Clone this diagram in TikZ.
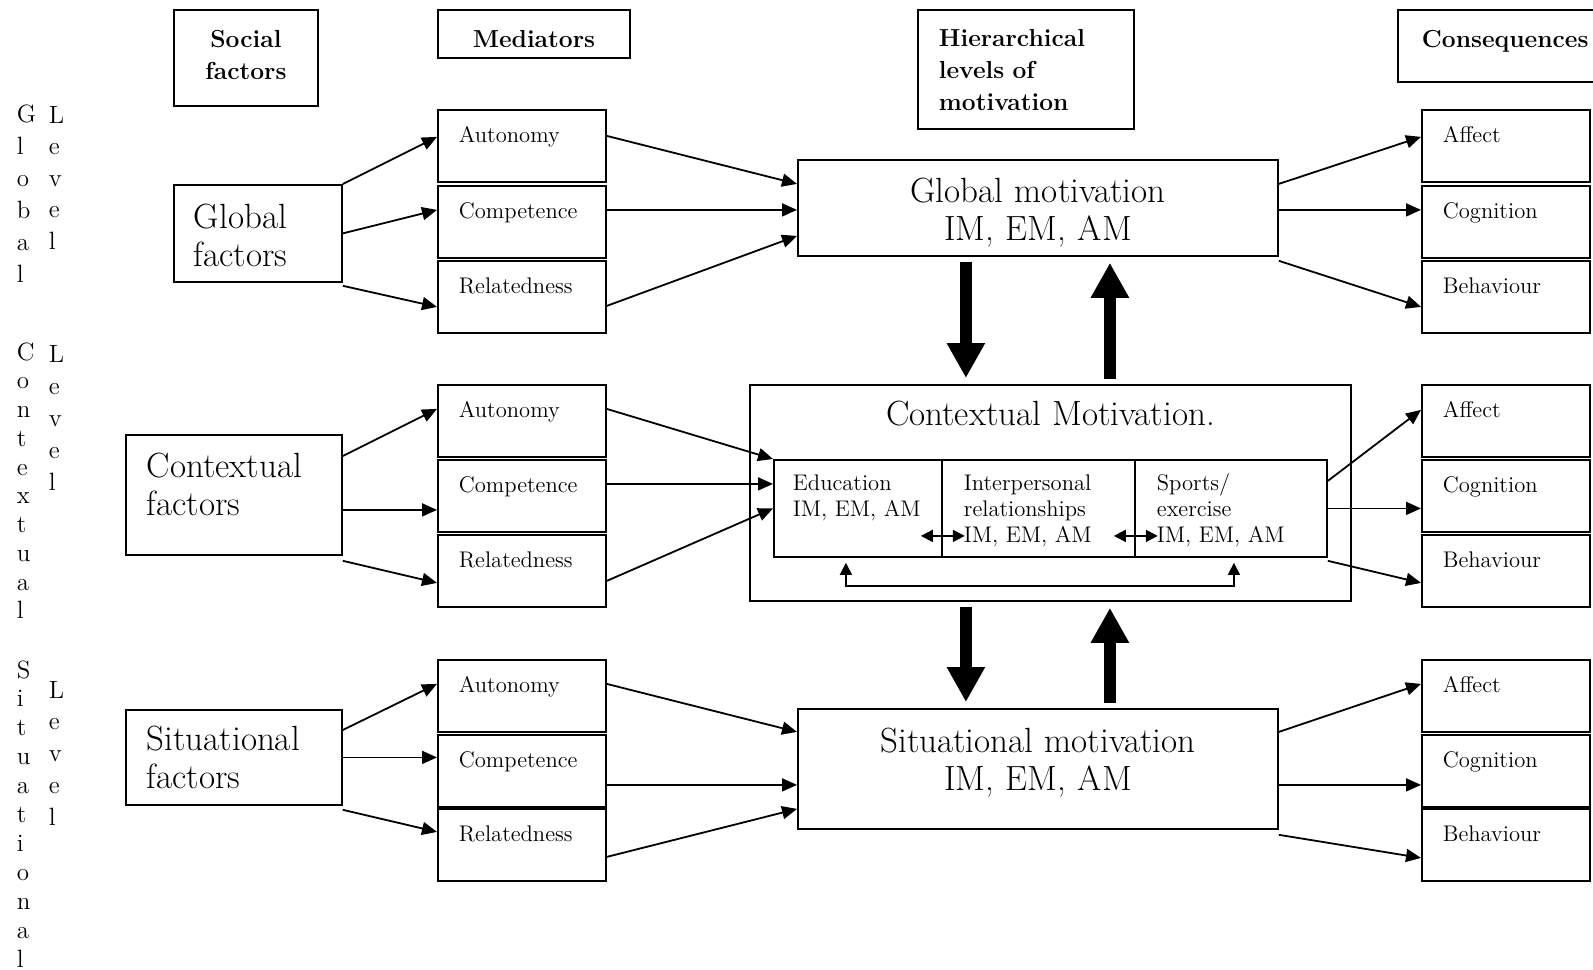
\documentclass[tikz,border=0pt]{standalone}
\usepackage{fontspec}
\usetikzlibrary{arrows.meta}

\begin{document}
\begin{tikzpicture}[x=0.5pt, y=-0.5pt, line width=0.9pt,
    >={Triangle[length=7.5pt,width=6.5pt]},
    box/.style={draw, anchor=north west, inner ysep=0pt},
    small/.style={font=\fontsize{11.3}{13}\selectfont},
    big/.style={font=\fontsize{17.5}{19}\selectfont},
    head/.style={font=\fontsize{12.3}{16}\selectfont\bfseries},
    lvl/.style={font=\fontsize{12.5}{#1}\selectfont, anchor=base west, inner sep=0pt, text width=10pt, align=left},
    med/.style={box, small, inner xsep=10.5pt, text width=63pt, text height=16.5pt, text depth=19.5pt, align=left},
    inbox/.style={box, small, inner xsep=11pt, align=left, text height=15.5pt, text depth=33pt},
    bigarr/.style={-{Triangle[length=17.5pt,width=18pt]}, line width=6pt, shorten <=2.5pt, shorten >=3pt},
    dbl/.style={{Triangle[length=6pt,width=6pt]}-{Triangle[length=6pt,width=6pt]}},
    fb/.style={{Triangle[length=6pt,width=6pt]}-{Triangle[length=6pt,width=6pt]}, line width=0.75pt}]
    \useasboundingbox (0,0) rectangle (1593,969);

    % column headings
    \node[box, head, text width=62pt, inner xsep=5pt, align=center, text height=19pt, text depth=29pt] (hsoc) at (173,9) {Social\\factors};
    \node[box, head, text width=86pt, inner xsep=5pt, align=center, text height=19pt, text depth=5pt] (hmed) at (437,9) {Mediators};
    \node[box, head, text width=87pt, inner xsep=10.5pt, align=left, text height=18.5pt, text depth=41pt] (hhier) at (917,9) {Hierarchical\\levels of\\motivation};
    \node[box, head, text width=95pt, inner xsep=12pt, align=left, text height=19pt, text depth=17pt] (hcons) at (1397,9) {Consequences};

    \node[lvl=16pt] (glob) at (16,122) {G\\l\\o\\b\\a\\l};
    \node[lvl=15.75pt] (glev) at (48,123) {L\\e\\v\\e\\l};
    \node[lvl=14.375pt] (cont) at (16,360) {C\\o\\n\\t\\e\\x\\t\\u\\a\\l};
    \node[lvl=16pt] (clev) at (48,362) {L\\e\\v\\e\\l};
    \node[lvl=14.45pt] (situ) at (16,678) {S\\i\\t\\u\\a\\t\\i\\o\\n\\a\\l};
    \node[lvl=15.875pt] (slev) at (48,698) {L\\e\\v\\e\\l};

    \node[box, big, text width=64pt, inner xsep=10pt, align=left, text height=22pt, text depth=26.5pt] (gfac) at (173,184) {Global\\factors};
    \node[box, big, text width=87pt, inner xsep=10.5pt, align=left, text height=21.5pt, text depth=38.5pt] (cfac) at (125,434) {Contextual\\factors};
    \node[box, big, text width=87pt, inner xsep=10.5pt, align=left, text height=20.5pt, text depth=27pt] (sfac) at (125,709) {Situational\\factors};

    \node[med] (ga) at (437,109) {Autonomy};
    \node[med] (gc) at (437,185) {Competence};
    \node[med] (gr) at (437,260) {Relatedness};
    \node[med] (ca) at (437,384) {Autonomy};
    \node[med] (cc) at (437,459) {Competence};
    \node[med] (cr) at (437,534) {Relatedness};
    \node[med] (sa) at (437,659) {Autonomy};
    \node[med] (sc) at (437,734) {Competence};
    \node[med] (sr) at (437,808) {Relatedness};

    \node[box, big, text width=230pt, inner xsep=5pt, align=center, text height=21.5pt, text depth=26.5pt] (gmot) at (797,159) {Global motivation\\IM, EM, AM};
    \node[box, big, text width=290.5pt, inner xsep=5pt, align=center, text height=20.5pt, text depth=87.5pt] (cmot) at (749,384) {Contextual Motivation.};
    \node[inbox, text width=65pt, inner xsep=9.5pt] (edu) at (773,459) {Education\\IM, EM, AM};
    \node[inbox, text width=74.5pt] (inter) at (941,459) {Interpersonal\\relationships\\IM, EM, AM};
    \node[inbox, text width=74pt] (sport) at (1134,459) {Sports/\\exercise\\IM, EM, AM};
    \node[box, big, text width=230pt, inner xsep=5pt, align=center, text height=22pt, text depth=38pt] (smot) at (797,708) {Situational motivation\\IM, EM, AM};

    \node[med] (gaf) at (1421,109) {Affect};
    \node[med] (gco) at (1421,185) {Cognition};
    \node[med] (gbe) at (1421,260) {Behaviour};
    \node[med] (caf) at (1421,384) {Affect};
    \node[med] (cco) at (1421,459) {Cognition};
    \node[med] (cbe) at (1421,534) {Behaviour};
    \node[med] (saf) at (1421,659) {Affect};
    \node[med] (sco) at (1421,734) {Cognition};
    \node[med] (sbe) at (1421,808) {Behaviour};

    % global level
    \draw[->] (gfac.north east) -- ([yshift=4.5pt]ga.west);
    \draw[->] (gfac.east) -- ([yshift=6pt]gc.west);
    \draw[->] ([yshift=-1.5pt]gfac.south east) -- ([yshift=-5pt]gr.west);
    \draw[->] ([yshift=5pt]ga.east) -- ([yshift=12pt]gmot.west);
    \draw[->] ([yshift=6pt]gc.east) -- ([yshift=6pt]gc.east -| gmot.west);
    \draw[->] ([yshift=-4.5pt]gr.east) -- ([yshift=-14pt]gmot.west);
    \draw[->] ([yshift=12pt]gmot.east) -- ([yshift=4.5pt]gaf.west);
    \draw[->] ([yshift=-1pt]gmot.east) -- ([yshift=-1pt]gmot.east -| gco.west);
    \draw[->] ([yshift=-2pt]gmot.south east) -- ([yshift=-5pt]gbe.west);

    % contextual level
    \draw[->] ([yshift=-11pt]cfac.north east) -- ([yshift=6pt]ca.west);
    \draw[->] ([yshift=-7.5pt]cfac.east) -- ([yshift=-7.5pt]cfac.east -| cc.west);
    \draw[->] ([yshift=-2.5pt]cfac.south east) -- ([yshift=-6pt]cr.west);
    \draw[->] ([yshift=6pt]ca.east) -- (edu.north west);
    \draw[->] ([yshift=6pt]cc.east) -- ([yshift=6pt]cc.east -| edu.west);
    \draw[->] ([yshift=-5pt]cr.east) -- (edu.west);
    \draw[->] ([yshift=13.75pt]sport.east) -- ([yshift=5.5pt]caf.west);
    \draw[->] (sport.east) -- (sport.east -| cco.west);
    \draw[->] ([yshift=-1.5pt]sport.south east) -- ([yshift=-6pt]cbe.west);
    \draw[dbl] ([xshift=-11pt,yshift=-13.75pt]edu.east) -- ([xshift=11pt,yshift=-13.75pt]edu.east);
    \draw[dbl] ([xshift=-11pt,yshift=-13.75pt]inter.east) -- ([xshift=11pt,yshift=-13.75pt]inter.east);
    \draw[fb] ([xshift=-6pt,yshift=-2.5pt]edu.south) -- ++(0,23) -| ([xshift=1.5pt,yshift=-2.5pt]sport.south);

    % situational level
    \draw[->] ([yshift=-10.5pt]sfac.north east) -- ([yshift=6pt]sa.west);
    \draw[->] (sfac.east) -- (sfac.east -| sc.west);
    \draw[->] ([yshift=-2pt]sfac.south east) -- ([yshift=6.5pt]sr.west);
    \draw[->] ([yshift=6pt]sa.east) -- ([yshift=18.5pt]smot.west);
    \draw[->] ([yshift=-7pt]sc.east) -- ([yshift=-7pt]sc.east -| smot.west);
    \draw[->] ([yshift=-6pt]sr.east) -- ([yshift=-20pt]smot.west);
    \draw[->] ([yshift=18.5pt]smot.east) -- ([yshift=6pt]saf.west);
    \draw[->] ([yshift=-8pt]smot.east) -- ([yshift=-8pt]smot.east -| sco.west);
    \draw[->] ([yshift=-2.5pt]smot.south east) -- ([yshift=-6.5pt]sbe.west);

    % top-down and bottom-up
    \draw[bigarr] ([xshift=-36pt]gmot.south) -- ([xshift=-36pt]gmot.south |- cmot.north);
    \draw[bigarr] ([xshift=36pt]gmot.south |- cmot.north) -- ([xshift=36pt]gmot.south);
    \draw[bigarr] ([xshift=-36pt]smot.north |- cmot.south) -- ([xshift=-36pt]smot.north);
    \draw[bigarr] ([xshift=36pt]smot.north) -- ([xshift=36pt]smot.north |- cmot.south);
\end{tikzpicture}
\end{document}
